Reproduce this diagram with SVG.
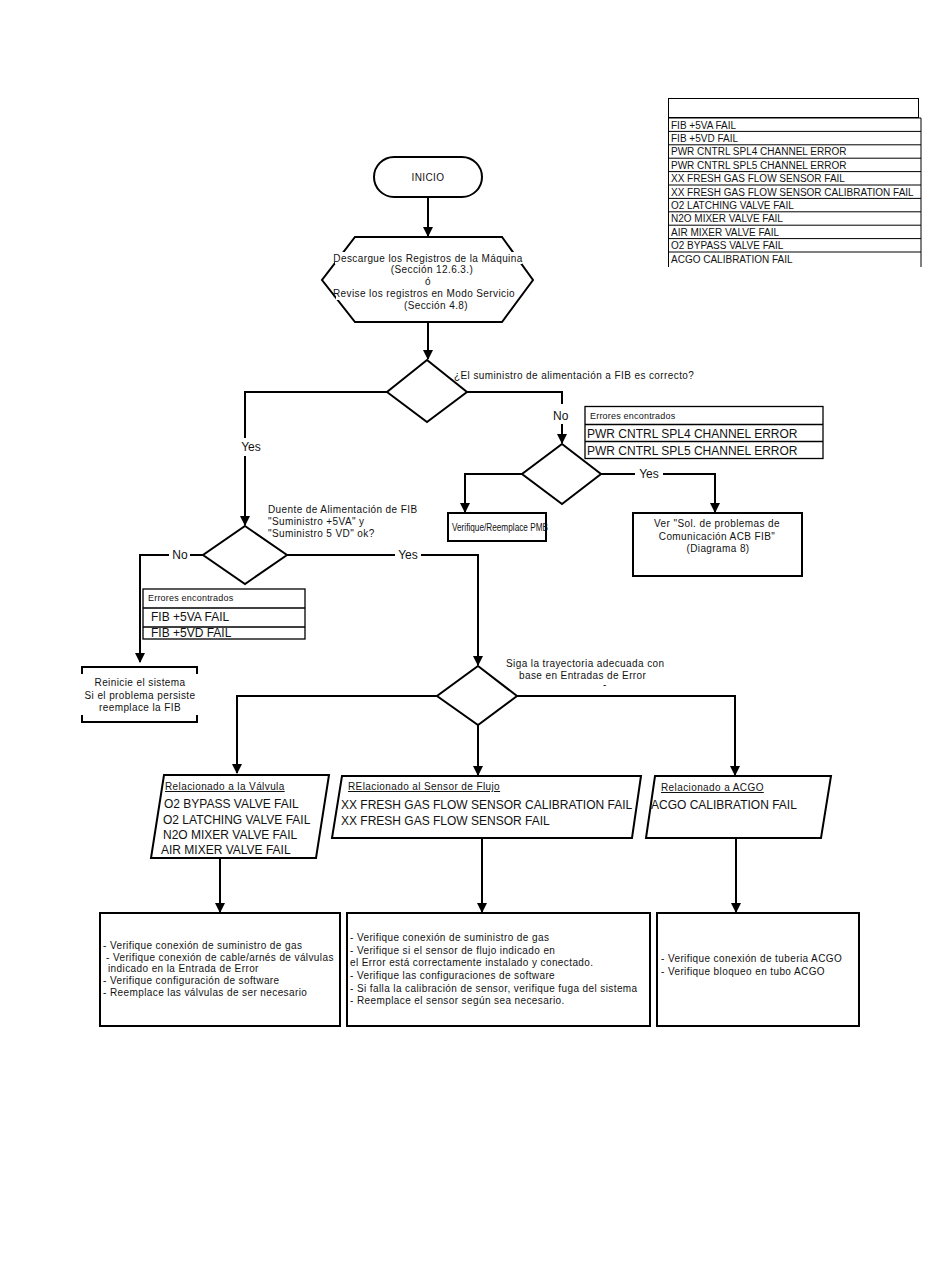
<svg xmlns="http://www.w3.org/2000/svg" width="950" height="1284" viewBox="0 0 950 1284">
<defs>
<marker id="ah" markerWidth="10" markerHeight="10" refX="9" refY="5" orient="auto" markerUnits="userSpaceOnUse">
<path d="M0,0 L10,5 L0,10 Z" fill="#000"/>
</marker>
<style>
text{font-family:"Liberation Sans",Arial,sans-serif;fill:#111;}
.s10{font-size:10px;letter-spacing:0.4px;}
.t10{font-size:10px;}
.s9{font-size:9px;letter-spacing:0.2px;}
.s12{font-size:12px;}
.mid{text-anchor:middle;}
.sh{fill:#fff;stroke:#000;stroke-width:2;}
.thin{fill:#fff;stroke:#000;stroke-width:1.3;}
.ln{fill:none;stroke:#000;stroke-width:2;}
.ar{fill:none;stroke:#000;stroke-width:2;marker-end:url(#ah);}
.u{text-decoration:underline;}
</style>
</defs>
<rect width="950" height="1284" fill="#fff"/>

<g id="connectors">
<path class="ar" d="M428,197 V236"/>
<path class="ar" d="M428,322 V359"/>
<path class="ln" d="M466,392 H562 V404"/>
<path class="ar" d="M562,424 V443"/>
<path class="ln" d="M388,392 H245 V438"/>
<path class="ar" d="M245,456 V525"/>
<path class="ln" d="M601,474 H635"/>
<path class="ar" d="M663,474 H715 V512"/>
<path class="ar" d="M522,474 H465 V512"/>
<path class="ln" d="M190,555 H203"/>
<path class="ar" d="M169,555 H140 V662"/>
<path class="ln" d="M287,555 H395"/>
<path class="ar" d="M421,555 H478 V665"/>
<path class="ar" d="M437,696 H237 V773"/>
<path class="ar" d="M478,725 V775"/>
<path class="ar" d="M517,696 H735 V775"/>
<path class="ar" d="M220,858 V912"/>
<path class="ar" d="M482,838 V912"/>
<path class="ar" d="M736,838 V912"/>
</g>

<g id="table">
<rect x="668.5" y="98.5" width="250" height="19" fill="#fff" stroke="#000" stroke-width="1"/>
<path d="M668.5,118 V267 M921,118 V267" stroke="#000" stroke-width="1" fill="none"/>
<path d="M668.5,118 H921 M668.5,131.4 H921 M668.5,144.8 H921 M668.5,158.2 H921 M668.5,171.6 H921 M668.5,185 H921 M668.5,198.4 H921 M668.5,211.8 H921 M668.5,225.2 H921 M668.5,238.6 H921 M668.5,252 H921" stroke="#000" stroke-width="1" fill="none"/>
<text class="t10" x="671" y="128.5">FIB +5VA FAIL</text>
<text class="t10" x="671" y="141.9">FIB +5VD FAIL</text>
<text class="t10" x="671" y="155.3">PWR CNTRL SPL4 CHANNEL ERROR</text>
<text class="t10" x="671" y="168.7">PWR CNTRL SPL5 CHANNEL ERROR</text>
<text class="t10" x="671" y="182.1">XX FRESH GAS FLOW SENSOR FAIL</text>
<text class="t10" x="671" y="195.5">XX FRESH GAS FLOW SENSOR CALIBRATION FAIL</text>
<text class="t10" x="671" y="208.9">O2 LATCHING VALVE FAIL</text>
<text class="t10" x="671" y="222.3">N2O MIXER VALVE FAIL</text>
<text class="t10" x="671" y="235.7">AIR MIXER VALVE FAIL</text>
<text class="t10" x="671" y="249.1">O2 BYPASS VALVE FAIL</text>
<text class="t10" x="671" y="262.5">ACGO CALIBRATION FAIL</text>
</g>

<g id="inicio">
<rect class="sh" x="374" y="157" width="108" height="40" rx="20" ry="20"/>
<text class="s10 mid" x="428" y="181">INICIO</text>
</g>

<g id="descargue">
<path class="sh" d="M355,237 H502 L533,280 L502,322 H355 L322,280 Z"/>
<rect x="335" y="252" width="187" height="12" fill="#fff"/>
<rect x="336" y="288" width="176" height="12" fill="#fff"/>
<text class="s10 mid" x="428" y="262">Descargue los Registros de la Máquina</text>
<text class="s10 mid" x="432" y="273">(Sección 12.6.3.)</text>
<text class="s10 mid" x="428" y="285">ó</text>
<text class="s10 mid" x="424" y="297">Revise los registros en Modo Servicio</text>
<text class="s10 mid" x="436" y="309">(Sección 4.8)</text>
</g>

<g id="d1">
<path class="sh" d="M427,360 L467,392 L427,422 L387,392 Z"/>
<text class="s10" x="454" y="379">¿El suministro de alimentación a FIB es correcto?</text>
<text class="s12" x="553" y="420">No</text>
<text class="s12 mid" x="251" y="451">Yes</text>
</g>

<g id="errores1">
<rect class="thin" x="585" y="406.5" width="238" height="52"/>
<path d="M585,424.5 H823 M585,441.5 H823" stroke="#000" stroke-width="1.3"/>
<text class="s9" x="590" y="419">Errores encontrados</text>
<text class="s12" x="587" y="438">PWR CNTRL SPL4 CHANNEL ERROR</text>
<text class="s12" x="587" y="455">PWR CNTRL SPL5 CHANNEL ERROR</text>
</g>

<g id="d2">
<path class="sh" d="M562,444 L601,474 L562,504 L522,474 Z"/>
<text class="s12 mid" x="649" y="478">Yes</text>
</g>

<g id="pmb">
<rect class="sh" x="448" y="513" width="98" height="28"/>
<text x="452" y="531" font-size="10" textLength="96" lengthAdjust="spacingAndGlyphs">Verifique/Reemplace PMB</text>
</g>

<g id="versol">
<rect class="sh" x="633" y="513" width="169" height="63"/>
<text class="s10 mid" x="717" y="527">Ver "Sol. de problemas de</text>
<text class="s10 mid" x="717" y="540">Comunicación ACB  FIB"</text>
<text class="s10 mid" x="718" y="552">(Diagrama 8)</text>
</g>

<g id="d3">
<path class="sh" d="M245,526 L287,555 L245,584 L203,555 Z"/>
<text class="s10" x="268" y="513">Duente de Alimentación de FIB</text>
<text class="s10" x="268" y="525">"Suministro +5VA" y</text>
<text class="s10" x="268" y="537">"Suministro 5 VD" ok?</text>
<text class="s12 mid" x="180" y="559">No</text>
<text class="s12 mid" x="408" y="559">Yes</text>
</g>

<g id="errores2">
<rect class="thin" x="143" y="589" width="162" height="50"/>
<path d="M143,608 H305 M143,627 H305" stroke="#000" stroke-width="1.3"/>
<text class="s9" x="148" y="601">Errores encontrados</text>
<text class="s12" x="151" y="621">FIB +5VA FAIL</text>
<text class="s12" x="151" y="637">FIB +5VD FAIL</text>
</g>

<g id="reinicie">
<path class="ln" d="M82,674 V667 H197 V674 M82,715 V722 H197 V715"/>
<text class="s10 mid" x="140" y="686">Reinicie el sistema</text>
<text class="s10 mid" x="140" y="699">Si el problema persiste</text>
<text class="s10 mid" x="140" y="711">reemplace la FIB</text>
</g>

<g id="d4">
<path class="sh" d="M478,666 L517,696 L478,725 L437,696 Z"/>
<text class="s10" x="506" y="667">Siga la trayectoria adecuada con</text>
<text class="s10" x="519" y="679">base en Entradas de Error</text>
<text class="s10" x="603" y="688">-</text>
</g>

<g id="valvula">
<path class="sh" d="M164,775 H329 L316,858 H151 Z"/>
<text class="s10 u" x="165" y="790">Relacionado a la Válvula</text>
<text class="s12" x="164" y="808">O2 BYPASS VALVE FAIL</text>
<text class="s12" x="163" y="824">O2 LATCHING VALVE FAIL</text>
<text class="s12" x="163" y="839">N2O MIXER VALVE FAIL</text>
<text class="s12" x="161" y="854">AIR MIXER VALVE FAIL</text>
</g>

<g id="sensor">
<path class="sh" d="M342,776 H641 L632,838 H332 Z"/>
<text class="s10 u" x="348" y="790">RElacionado al Sensor de Flujo</text>
<text class="s12" x="341" y="809">XX FRESH GAS FLOW SENSOR CALIBRATION FAIL</text>
<text class="s12" x="341" y="825">XX FRESH GAS FLOW SENSOR FAIL</text>
</g>

<g id="acgo">
<path class="sh" d="M655,776 H831 L821,838 H646 Z"/>
<text class="s10 u" x="661" y="791">Relacionado a ACGO</text>
<text class="s12" x="651" y="809">ACGO CALIBRATION FAIL</text>
</g>

<g id="box1">
<rect class="sh" x="100" y="913" width="240" height="113"/>
<text class="s10" x="103" y="949">- Verifique conexión de suministro de gas</text>
<text class="s10" x="106" y="961"> - Verifique conexión de cable/arnés de válvulas</text>
<text class="s10" x="108" y="972">indicado en la Entrada de Error</text>
<text class="s10" x="103" y="984">- Verifique configuración de software</text>
<text class="s10" x="103" y="996">- Reemplace las válvulas de ser necesario</text>
</g>

<g id="box2">
<rect class="sh" x="347" y="913" width="303" height="113"/>
<text class="s10" x="350" y="941">- Verifique conexión de suministro de gas</text>
<text class="s10" x="350" y="954">- Verifique si el sensor de flujo indicado en</text>
<text class="s10" x="350" y="966">el Error está correctamente instalado y conectado.</text>
<text class="s10" x="350" y="979">- Verifique las configuraciones de software</text>
<text class="s10" x="350" y="992">- Si falla la calibración de sensor, verifique fuga del sistema</text>
<text class="s10" x="350" y="1004">- Reemplace el sensor según sea necesario.</text>
</g>

<g id="box3">
<rect class="sh" x="657" y="913" width="202" height="113"/>
<text class="s10" x="661" y="962">- Verifique conexión de tuberia ACGO</text>
<text class="s10" x="661" y="975">- Verifique bloqueo en tubo ACGO</text>
</g>
</svg>
